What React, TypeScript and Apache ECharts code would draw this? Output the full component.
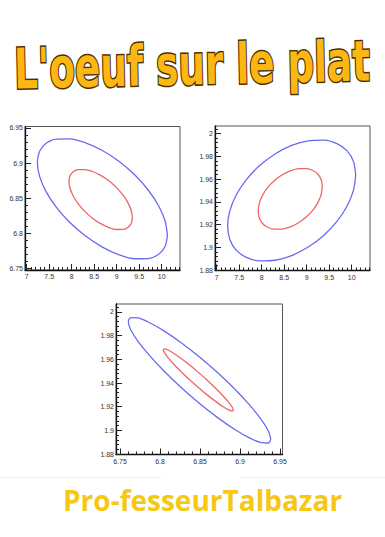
import React, { useEffect, useRef } from 'react';
import * as echarts from 'echarts';

const TITLE = "L'oeuf sur le plat";
const AUTHOR = 'Pro-fesseurTalbazar';

// tick labels
const P1_X_TICKS = [7, 7.5, 8, 8.5, 9, 9.5, 10];
const P1_Y_TICKS = [6.75, 6.8, 6.85, 6.9, 6.95];
const P2_X_TICKS = [7, 7.5, 8, 8.5, 9, 9.5, 10];
const P2_Y_TICKS = [1.88, 1.9, 1.92, 1.94, 1.96, 1.98, 2];
const P3_X_TICKS = [6.75, 6.8, 6.85, 6.9, 6.95];
const P3_Y_TICKS = [1.88, 1.9, 1.92, 1.94, 1.96, 1.98, 2];

// axis ranges
const P1_X_RANGE = [6.963, 10.407];
const P1_Y_RANGE = [6.7476, 6.952];
const P2_X_RANGE = [6.963, 10.407];
const P2_Y_RANGE = [1.8797, 2.0067];
const P3_X_RANGE = [6.745, 6.953];
const P3_Y_RANGE = [1.8797, 2.0067];

// contour points (x, y)
const P1_OUTER: [number, number][] = [
  [10.127, 6.7974], [10.0777, 6.817], [9.9334, 6.8387], [9.7039, 6.8612], [9.4048, 6.8828],
  [9.0563, 6.9021], [8.6825, 6.9178], [8.3087, 6.9288], [7.9603, 6.9344], [7.6611, 6.9341],
  [7.4316, 6.9281], [7.2873, 6.9166], [7.238, 6.9006], [7.2873, 6.881], [7.4316, 6.8593],
  [7.6611, 6.8368], [7.9602, 6.8152], [8.3087, 6.7959], [8.6825, 6.7802], [9.0563, 6.7692],
  [9.4048, 6.7636], [9.7039, 6.7639], [9.9334, 6.7699], [10.0777, 6.7814], [10.127, 6.7974],
];
const P1_INNER: [number, number][] = [
  [9.349, 6.8222], [9.325, 6.832], [9.2546, 6.8429], [9.1427, 6.8541], [8.997, 6.8649],
  [8.8268, 6.8746], [8.6445, 6.8824], [8.4622, 6.8879], [8.2923, 6.8907], [8.1463, 6.8906],
  [8.0344, 6.8875], [7.964, 6.8818], [7.94, 6.8738], [7.964, 6.864], [8.0344, 6.8531],
  [8.1463, 6.8419], [8.292, 6.8311], [8.4622, 6.8214], [8.6445, 6.8136], [8.8268, 6.8081],
  [8.997, 6.8053], [9.1427, 6.8054], [9.2546, 6.8085], [9.325, 6.8142], [9.349, 6.8222],
];
const P2_OUTER: [number, number][] = [
  [10.089, 1.9636], [10.0405, 1.9754], [9.8984, 1.9848], [9.6723, 1.9912], [9.3778, 1.9943],
  [9.0346, 1.9937], [8.6665, 1.9896], [8.2984, 1.9821], [7.9553, 1.9719], [7.6607, 1.9596],
  [7.4346, 1.946], [7.2925, 1.9321], [7.244, 1.9188], [7.2925, 1.907], [7.4346, 1.8976],
  [7.6607, 1.8912], [7.9552, 1.8881], [8.2984, 1.8887], [8.6665, 1.8928], [9.0346, 1.9003],
  [9.3777, 1.9105], [9.6723, 1.9228], [9.8984, 1.9364], [10.0405, 1.9503], [10.089, 1.9636],
];
const P2_INNER: [number, number][] = [
  [9.347, 1.9534], [9.3227, 1.9594], [9.2517, 1.9643], [9.1386, 1.9676], [8.9913, 1.9693],
  [8.8196, 1.9692], [8.6355, 1.9673], [8.4514, 1.9636], [8.2798, 1.9586], [8.1324, 1.9525],
  [8.0193, 1.9457], [7.9483, 1.9387], [7.924, 1.9319], [7.9483, 1.9259], [8.0193, 1.921],
  [8.1324, 1.9177], [8.2797, 1.916], [8.4514, 1.9161], [8.6355, 1.918], [8.8196, 1.9217],
  [8.9912, 1.9267], [9.1386, 1.9328], [9.2517, 1.9396], [9.3227, 1.9466], [9.347, 1.9534],
];
const P3_OUTER: [number, number][] = [
  [6.9384, 1.8928], [6.9354, 1.8996], [6.9265, 1.9092], [6.9123, 1.9211], [6.8939, 1.9345],
  [6.8724, 1.9484], [6.8494, 1.9619], [6.8264, 1.974], [6.8049, 1.984], [6.7865, 1.9911],
  [6.7723, 1.9949], [6.7634, 1.9952], [6.7604, 1.9918], [6.7634, 1.985], [6.7723, 1.9754],
  [6.7865, 1.9635], [6.8049, 1.9501], [6.8264, 1.9362], [6.8494, 1.9227], [6.8724, 1.9106],
  [6.8939, 1.9006], [6.9123, 1.8935], [6.9265, 1.8897], [6.9354, 1.8894], [6.9384, 1.8928],
];
const P3_INNER: [number, number][] = [
  [6.8917, 1.9171], [6.8902, 1.9196], [6.8858, 1.9237], [6.8788, 1.9291], [6.8698, 1.9354],
  [6.8592, 1.9422], [6.8479, 1.949], [6.8366, 1.9554], [6.826, 1.9609], [6.817, 1.9652],
  [6.81, 1.9679], [6.8056, 1.9689], [6.8041, 1.9681], [6.8056, 1.9656], [6.81, 1.9615],
  [6.817, 1.9561], [6.826, 1.9498], [6.8366, 1.943], [6.8479, 1.9362], [6.8592, 1.9298],
  [6.8698, 1.9243], [6.8788, 1.92], [6.8858, 1.9173], [6.8902, 1.9163], [6.8917, 1.9171],
];

const BLUE = '#6a6af2';
const RED = '#f06464';

function minorTicks(major: number[], lo: number, hi: number, n = 5): number[] {
  const step = (major[1] - major[0]) / n;
  const out: number[] = [];
  for (let k = -3 * n; k < 1000; k++) {
    const v = +(major[0] + k * step).toFixed(6);
    if (v > hi) break;
    if (v < lo) continue;
    if (k % n === 0) continue;
    out.push(v);
  }
  return out;
}

const LABEL_FONT = "'Liberation Sans', Arial, sans-serif";

function axisPair(dim: 'x' | 'y', gridIndex: number, range: number[], ticks: number[]) {
  const base = {
    type: 'value',
    gridIndex,
    min: range[0],
    max: range[1],
    position: dim === 'x' ? 'bottom' : 'left',
    splitLine: { show: false },
  };
  const major = {
    ...base,
    axisLine: { show: true, onZero: false, lineStyle: { color: '#111', width: 1.3 } },
    axisTick: { show: true, inside: true, length: 6, customValues: ticks, lineStyle: { color: '#222', width: 1 } },
    axisLabel: {
      show: true,
      customValues: ticks,
      fontSize: 7,
      fontFamily: LABEL_FONT,
      color: '#333',
      margin: dim === 'x' ? 3 : 2,
      formatter: (v: number) => String(v),
    },
  };
  const minor = {
    ...base,
    axisLine: { show: false, onZero: false },
    axisTick: {
      show: true,
      inside: true,
      length: 3,
      customValues: minorTicks(ticks, range[0], range[1]),
      lineStyle: { color: '#222', width: 1 },
    },
    axisLabel: { show: false },
  };
  return [major, minor];
}

function measure(text: string, font: string): number {
  const c = document.createElement('canvas').getContext('2d');
  if (!c) return 0;
  c.font = font;
  return c.measureText(text).width;
}

export default function App() {
  const ref = useRef<HTMLDivElement>(null);
  useEffect(() => {
    if (!ref.current) return;
    const chart = echarts.init(ref.current, null, { renderer: 'svg' });
    const grids = [
      { left: 25, top: 126.5, width: 155, height: 143.5 },
      { left: 215, top: 126, width: 155, height: 144.5 },
      { left: 116, top: 304, width: 166.5, height: 150.5 },
    ].map((g) => ({ ...g, show: true, borderColor: '#555', borderWidth: 1, backgroundColor: 'transparent' }));

    const xAxis = [
      ...axisPair('x', 0, P1_X_RANGE, P1_X_TICKS),
      ...axisPair('x', 1, P2_X_RANGE, P2_X_TICKS),
      ...axisPair('x', 2, P3_X_RANGE, P3_X_TICKS),
    ];
    const yAxis = [
      ...axisPair('y', 0, P1_Y_RANGE, P1_Y_TICKS),
      ...axisPair('y', 1, P2_Y_RANGE, P2_Y_TICKS),
      ...axisPair('y', 2, P3_Y_RANGE, P3_Y_TICKS),
    ];
    const mk = (data: [number, number][], idx: number, color: string) => ({
      type: 'line',
      xAxisIndex: idx,
      yAxisIndex: idx,
      data,
      showSymbol: false,
      smooth: 0.3,
      lineStyle: { color, width: 1.3 },
      z: 5,
    });

    const titleFont = "bold 56px 'DejaVu Sans', sans-serif";
    const tw = measure(TITLE, titleFont) || 480;
    const authorFont = "bold 28px 'Open Sans', 'Noto Sans', sans-serif";
    const aw = measure(AUTHOR, authorFont) || 279;

    chart.setOption({
      animation: false,
      backgroundColor: '#fff',
      grid: grids,
      xAxis,
      yAxis,
      series: [
        mk(P1_OUTER, 0, BLUE),
        mk(P1_INNER, 0, RED),
        mk(P2_OUTER, 2, BLUE),
        mk(P2_INNER, 2, RED),
        mk(P3_OUTER, 4, BLUE),
        mk(P3_INNER, 4, RED),
      ],
      graphic: [
        {
          type: 'text',
          x: 192,
          y: 65,
          rotation: 0.022,
          scaleX: 356 / tw,
          style: {
            text: TITLE,
            font: titleFont,
            fill: '#fcb714',
            stroke: '#4a3000',
            lineWidth: 3,
            textAlign: 'center',
            textVerticalAlign: 'middle',
          },
        },
        { type: 'line', shape: { x1: 0, y1: 477.5, x2: 162, y2: 477.5 }, style: { stroke: '#efefef', lineWidth: 1 } },
        { type: 'line', shape: { x1: 239, y1: 477.5, x2: 385, y2: 477.5 }, style: { stroke: '#efefef', lineWidth: 1 } },
        {
          type: 'text',
          x: 63,
          y: 500,
          scaleX: 279 / aw,
          style: {
            text: AUTHOR,
            font: authorFont,
            fill: '#f6c814',
            textAlign: 'left',
            textVerticalAlign: 'middle',
          },
        },
      ],
    });
    return () => chart.dispose();
  }, []);
  return (
    <div
      ref={ref}
      style={{ position: 'absolute', left: 0, top: 0, width: 385, height: 537, background: '#fff' }}
    />
  );
}
